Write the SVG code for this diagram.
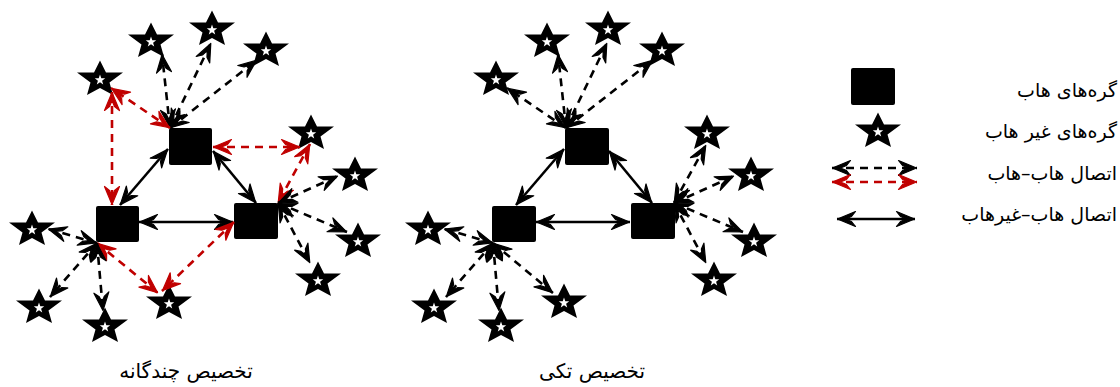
<svg xmlns="http://www.w3.org/2000/svg" width="1120" height="387" viewBox="0 0 1120 387">
<style>
.e{fill:none;stroke-width:2.6}
.k{stroke:#000}
.r{stroke:#c00000}
.d{stroke-dasharray:8 6}
.kb{marker-start:url(#ak);marker-end:url(#ak)}
.rb{marker-start:url(#ar);marker-end:url(#ar)}
.hub{fill:#000}
.t{font-family:"DejaVu Sans","Noto Sans",sans-serif;font-size:19px;fill:#000}
.c{font-size:20px}
</style>
<defs>
<marker id="ak" viewBox="-21 -10 22 20" refX="0" refY="0" markerWidth="22" markerHeight="20" markerUnits="userSpaceOnUse" orient="auto-start-reverse">
<path d="M-0.5,0 L-18.5,-7.5 L-14.5,-2.5 L-8.5,0 L-14.5,2.5 L-18.5,7.5 Z" fill="#000" stroke="#000" stroke-width="1.2" stroke-linejoin="round"/>
</marker>
<marker id="ar" viewBox="-21 -10 22 20" refX="0" refY="0" markerWidth="22" markerHeight="20" markerUnits="userSpaceOnUse" orient="auto-start-reverse">
<path d="M-0.5,0 L-18.5,-7.5 L-14.5,-2.5 L-8.5,0 L-14.5,2.5 L-18.5,7.5 Z" fill="#c00000" stroke="#c00000" stroke-width="1.2" stroke-linejoin="round"/>
</marker>
<g id="star">
<path d="M0,-19.5 L6,-7.5 L23,-7.5 L9.5,2.5 L13,15 L0,8 L-13,15 L-9.5,2.5 L-23,-7.5 L-6,-7.5 Z" fill="#000"/>
<path d="M0,-5.5 L1.29,-1.78 L5.23,-1.7 L2.09,0.68 L3.23,4.45 L0,2.2 L-3.23,4.45 L-2.09,0.68 L-5.23,-1.7 L-1.29,-1.78 Z" fill="#fff"/>
</g>
</defs>
<rect width="1120" height="387" fill="#fff"/>

<!-- Left diagram nodes -->
<g id="L-hubA"><rect class="hub" x="169" y="128" width="43" height="37" rx="2"/></g>
<g id="L-hubB"><rect class="hub" x="96" y="206" width="43" height="36" rx="2"/></g>
<g id="L-hubC"><rect class="hub" x="234" y="203" width="44" height="36" rx="2"/></g>
<g id="L-s1"><use href="#star" transform="translate(151,42)"/></g>
<g id="L-s2"><use href="#star" transform="translate(212,30)"/></g>
<g id="L-s3"><use href="#star" transform="translate(266,51)"/></g>
<g id="L-s4"><use href="#star" transform="translate(100,80)"/></g>
<g id="L-s5"><use href="#star" transform="translate(311,134)"/></g>
<g id="L-s6"><use href="#star" transform="translate(355,176)"/></g>
<g id="L-s7"><use href="#star" transform="translate(358,242)"/></g>
<g id="L-s8"><use href="#star" transform="translate(318,281)"/></g>
<g id="L-s9"><use href="#star" transform="translate(32,230)"/></g>
<g id="L-s10"><use href="#star" transform="translate(39,308)"/></g>
<g id="L-s11"><use href="#star" transform="translate(105,327)"/></g>
<g id="L-s12"><use href="#star" transform="translate(169,304)"/></g>

<!-- Right diagram nodes -->
<g id="R-hubA"><rect class="hub" x="565" y="128" width="44" height="37" rx="2"/></g>
<g id="R-hubB"><rect class="hub" x="492" y="206" width="44" height="36" rx="2"/></g>
<g id="R-hubC"><rect class="hub" x="631" y="203" width="44" height="36" rx="2"/></g>
<g id="R-s1"><use href="#star" transform="translate(547,42)"/></g>
<g id="R-s2"><use href="#star" transform="translate(608,30)"/></g>
<g id="R-s3"><use href="#star" transform="translate(662,51)"/></g>
<g id="R-s4"><use href="#star" transform="translate(496,80)"/></g>
<g id="R-s5"><use href="#star" transform="translate(707,134)"/></g>
<g id="R-s6"><use href="#star" transform="translate(751,176)"/></g>
<g id="R-s7"><use href="#star" transform="translate(754,242)"/></g>
<g id="R-s8"><use href="#star" transform="translate(714,281)"/></g>
<g id="R-s9"><use href="#star" transform="translate(428,230)"/></g>
<g id="R-s10"><use href="#star" transform="translate(434,308)"/></g>
<g id="R-s11"><use href="#star" transform="translate(501,327)"/></g>
<g id="R-s12"><use href="#star" transform="translate(564,303)"/></g>

<!-- Legend nodes -->
<g id="leg-hub"><rect class="hub" x="851" y="68" width="44" height="37" rx="2"/></g>
<g id="leg-star"><use href="#star" transform="translate(878,132)"/></g>

<g id="connectors">
<!-- left -->
<line class="e k d kb" x1="170" y1="128" x2="162" y2="54"/>
<line class="e k d kb" x1="170" y1="128" x2="211" y2="43"/>
<line class="e k d kb" x1="170" y1="128" x2="257" y2="60"/>
<line class="e r d rb" x1="170" y1="128" x2="111" y2="88"/>
<line class="e r d rb" x1="112" y1="92" x2="112" y2="205"/>
<line class="e k kb" x1="168" y1="149" x2="120" y2="205"/>
<line class="e k kb" x1="213" y1="151" x2="256" y2="203"/>
<line class="e k kb" x1="139" y1="222" x2="233" y2="222"/>
<line class="e r d rb" x1="213" y1="147" x2="300" y2="147"/>
<line class="e r d rb" x1="310" y1="144" x2="278" y2="203"/>
<line class="e k d kb" x1="278" y1="203" x2="338" y2="176"/>
<line class="e k d kb" x1="278" y1="203" x2="347" y2="232"/>
<line class="e k d kb" x1="278" y1="203" x2="310" y2="263"/>
<line class="e r d rb" x1="234" y1="222" x2="162" y2="291"/>
<line class="e r d rb" x1="97" y1="243" x2="158" y2="293"/>
<line class="e k d kb" x1="97" y1="243" x2="48" y2="229"/>
<line class="e k d kb" x1="97" y1="243" x2="50" y2="297"/>
<line class="e k d kb" x1="97" y1="243" x2="103" y2="311"/>
<!-- right -->
<line class="e k d kb" x1="566" y1="128" x2="558" y2="54"/>
<line class="e k d kb" x1="566" y1="128" x2="607" y2="43"/>
<line class="e k d kb" x1="566" y1="128" x2="653" y2="60"/>
<line class="e k d kb" x1="566" y1="128" x2="507" y2="88"/>
<line class="e k kb" x1="564" y1="149" x2="516" y2="205"/>
<line class="e k kb" x1="609" y1="151" x2="652" y2="203"/>
<line class="e k kb" x1="536" y1="222" x2="630" y2="222"/>
<line class="e k d kb" x1="674" y1="203" x2="706" y2="145"/>
<line class="e k d kb" x1="674" y1="203" x2="734" y2="176"/>
<line class="e k d kb" x1="674" y1="203" x2="743" y2="232"/>
<line class="e k d kb" x1="674" y1="203" x2="706" y2="263"/>
<line class="e k d kb" x1="493" y1="243" x2="553" y2="293"/>
<line class="e k d kb" x1="493" y1="243" x2="444" y2="229"/>
<line class="e k d kb" x1="493" y1="243" x2="446" y2="297"/>
<line class="e k d kb" x1="493" y1="243" x2="499" y2="311"/>
<!-- legend -->
<line class="e k d kb" x1="832" y1="168" x2="917" y2="168"/>
<line class="e r d rb" x1="832" y1="182" x2="917" y2="182"/>
<line class="e k kb" x1="837" y1="219" x2="915" y2="219"/>
</g>

<g id="legend-text">
<text class="t" x="1117" y="97" text-anchor="end">گره‌های هاب</text>
<text class="t" x="1117" y="138" text-anchor="end">گره‌های غیر هاب</text>
<text class="t" x="1117" y="180" text-anchor="end">اتصال هاب–هاب</text>
<text class="t" x="1117" y="221" text-anchor="end">اتصال هاب–غیرهاب</text>
</g>
<g id="captions">
<text class="t c" x="186" y="378" text-anchor="middle">تخصیص چندگانه</text>
<text class="t c" x="592" y="378" text-anchor="middle">تخصیص تکی</text>
</g>
</svg>
